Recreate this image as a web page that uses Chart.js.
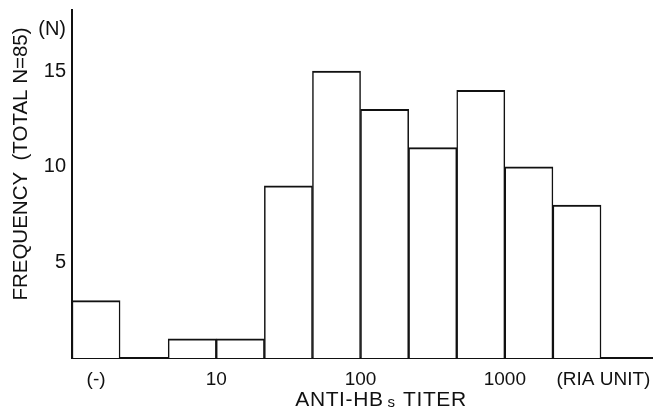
<!DOCTYPE html>
<html>
<head>
<meta charset="utf-8">
<script src="https://cdn.jsdelivr.net/npm/chart.js@4/dist/chart.umd.min.js"></script>
<style>
  html, body { margin: 0; padding: 0; background: #fff; }
</style>
</head>
<body>
<canvas id="histChart" width="653" height="414"></canvas>
<script>
// bins: (-), then three bins per decade of titer
const binCenters = [0.5, 1.5, 2.5, 3.5, 4.5, 5.5, 6.5, 7.5, 8.5, 9.5, 10.5];
const counts = [3, 0, 1, 1, 9, 15, 13, 11, 14, 10, 8];

const xTickValues = [0.5, 3, 6, 9, 11.05];
const xTickLabels = ['(-)', '10', '100', '1000', '(RIA UNIT)'];
const yTickValues = [5, 10, 15, 17.2];
const yTickLabels = ['5', '10', '15', '(N)'];

const FONT = "'Liberation Sans', Arial, Helvetica, sans-serif";
const INK = '#111';

// axis titles drawn by hand so they sit where the original has them
const axisTitles = {
    id: 'axisTitles',
    afterDraw(chart) {
        const c = chart.ctx;
        c.save();
        c.fillStyle = INK;
        c.textBaseline = 'middle';

        // y title
        c.save();
        c.translate(21, 164);
        c.rotate(-Math.PI / 2);
        c.textAlign = 'center';
        c.font = '20.5px ' + FONT;
        c.fillText('FREQUENCY  (TOTAL N=85)', 0, 0);
        c.restore();

        // x title with small "s"
        c.letterSpacing = '0.6px';
        const big = '21px ' + FONT, small = '15px ' + FONT;
        const a = 'ANTI-HB', s = 's', b = ' TITER';
        c.font = big; const wa = c.measureText(a).width, wb = c.measureText(b).width;
        c.font = small; const ws = c.measureText(s).width;
        let x = 381 - (wa + ws + wb + 5) / 2;
        const y = 400;
        c.textAlign = 'left';
        c.font = big; c.fillText(a, x, y); x += wa + 4;
        c.font = small; c.fillText(s, x, y + 3); x += ws + 1;
        c.font = big; c.fillText(b, x, y);
        c.restore();
    }
};

new Chart(document.getElementById('histChart'), {
    type: 'bar',
    data: {
        datasets: [{
            data: binCenters.map((x, i) => ({ x: x, y: counts[i] })),
            backgroundColor: '#fff',
            borderColor: INK,
            borderWidth: { top: 2, left: 1.5, right: 1.5, bottom: 0 },
            borderSkipped: false,
            barPercentage: 1,
            categoryPercentage: 1
        }]
    },
    options: {
        responsive: false,
        animation: false,
        layout: { padding: { top: 10, right: 1, left: 0, bottom: 0 } },
        plugins: { legend: { display: false }, tooltip: { enabled: false } },
        scales: {
            x: {
                type: 'linear',
                min: 0,
                max: 12.06,
                offset: false,
                grid: { display: false, drawTicks: false },
                border: { display: true, color: INK, width: 2 },
                afterBuildTicks: s => { s.ticks = xTickValues.map(v => ({ value: v })); },
                afterFit: s => { s.height = 56; s.paddingLeft = 0; s.paddingRight = 0; },
                ticks: {
                    autoSkip: false,
                    maxRotation: 0,
                    padding: 10,
                    color: INK,
                    font: { family: FONT, size: 19 },
                    callback: (v, i) => xTickLabels[i]
                }
            },
            y: {
                min: 0,
                max: 18.2,
                grid: { display: false, drawTicks: false },
                border: { display: true, color: INK, width: 2 },
                afterBuildTicks: s => { s.ticks = yTickValues.map(v => ({ value: v })); },
                afterFit: s => { s.width = 72; s.paddingTop = 0; s.paddingBottom = 0; },
                ticks: {
                    autoSkip: false,
                    padding: 6,
                    color: INK,
                    font: { family: FONT, size: 20 },
                    callback: (v, i) => yTickLabels[i]
                }
            }
        }
    },
    plugins: [axisTitles]
});
</script>
</body>
</html>
